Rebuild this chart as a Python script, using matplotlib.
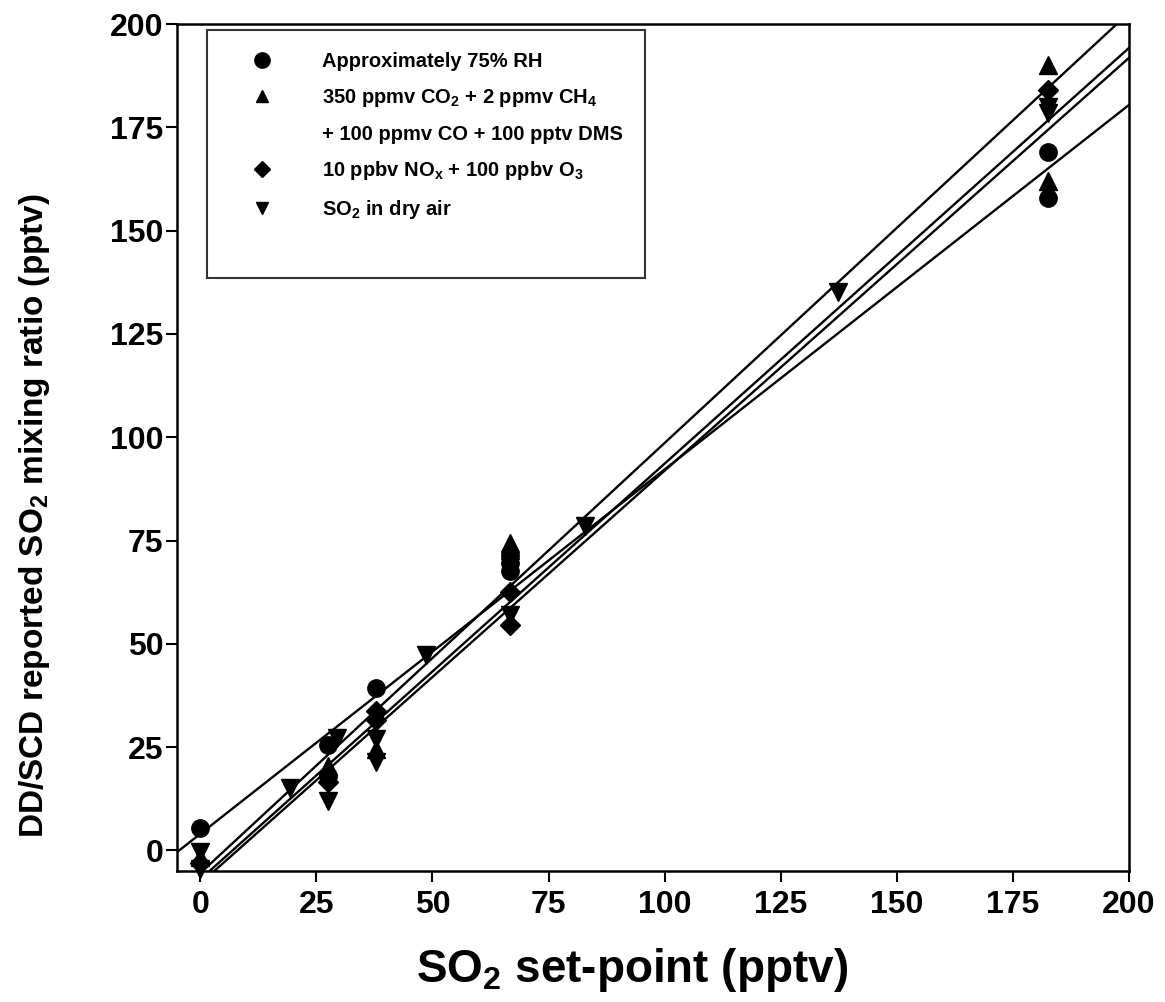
import matplotlib
matplotlib.use("Agg")
import matplotlib.pyplot as plt
from matplotlib.lines import Line2D

plt.rcParams['font.family'] = ['Liberation Sans', 'DejaVu Sans']
plt.rcParams['font.weight'] = 'bold'
plt.rcParams['mathtext.fontset'] = 'custom'
plt.rcParams['mathtext.rm'] = 'Liberation Sans:bold'
plt.rcParams['mathtext.it'] = 'Liberation Sans:bold'
plt.rcParams['mathtext.bf'] = 'Liberation Sans:bold'
plt.rcParams['mathtext.default'] = 'rm'

# ---- data ----
rh_x = [0, 27.4, 27.4, 37.9, 66.6, 66.6, 66.6, 182.6, 182.6]
rh_y = [5.3, 25.5, 18.0, 39.3, 71.5, 69.5, 67.5, 169.0, 158.0]

gas_x = [0, 27.4, 37.9, 66.6, 66.6, 182.6, 182.6]
gas_y = [-1.5, 20.5, 24.5, 74.5, 72.8, 190.0, 162.0]

nox_x = [0, 27.4, 37.9, 37.9, 66.6, 66.6, 182.6]
nox_y = [-3.0, 16.5, 33.8, 31.5, 62.5, 54.5, 184.0]

dry_x = [0, 0, 19.4, 27.4, 29.5, 37.9, 37.9, 48.7, 66.6, 82.8, 137.3, 182.6, 182.6]
dry_y = [-0.5, -4.5, 15.2, 12.0, 27.3, 27.0, 21.5, 47.4, 57.0, 78.4, 135.2, 180.0, 178.5]

# regression lines (slope, intercept)
fit_slopes = [0.882, 1.041, 1.006, 0.999]
fit_intercepts = [4.0, -5.5, -7.0, -8.0]

xticks = [0, 25, 50, 75, 100, 125, 150, 175, 200]
yticks = [0, 25, 50, 75, 100, 125, 150, 175, 200]

labels = ['Approximately 75% RH',
          r'350 ppmv CO$_2$ + 2 ppmv CH$_4$',
          '+ 100 ppmv CO + 100 pptv DMS',
          r'10 ppbv NO$_x$ + 100 ppbv O$_3$',
          r'SO$_2$ in dry air',
          ' ']

fig = plt.figure(figsize=(11.65, 10.02), dpi=100)
ax = fig.add_axes([0.152, 0.1307, 0.817, 0.8453])

xr = [-5, 200]
for m, b in zip(fit_slopes, fit_intercepts):
    ax.plot(xr, [m * xr[0] + b, m * xr[1] + b], color='black', lw=1.7, zorder=2)

ms = 12.5
kw = dict(color='black', linestyle='none', markersize=ms, zorder=3, clip_on=False)
ax.plot(rh_x, rh_y, marker='o', **kw)
ax.plot(gas_x, gas_y, marker='^', **kw)
ax.plot(nox_x, nox_y, marker='D', markersize=ms * 0.8, color='black',
        linestyle='none', zorder=3, clip_on=False)
ax.plot(dry_x, dry_y, marker='v', **kw)

ax.set_xlim(-5, 200)
ax.set_ylim(-5, 200)
ax.set_xticks(xticks)
ax.set_yticks(yticks)
ax.tick_params(axis='both', direction='out', length=8, width=1.5,
               labelsize=23, pad=2)
ax.tick_params(axis='x', pad=6)
for lab in ax.get_xticklabels() + ax.get_yticklabels():
    lab.set_fontweight('bold')
for s in ax.spines.values():
    s.set_linewidth(1.8)

ax.set_xlabel(r'SO$_2$ set-point (pptv)', fontsize=33, fontweight='bold')
ax.set_ylabel(r'DD/SCD reported SO$_2$ mixing ratio (pptv)', fontsize=24,
              fontweight='bold')
ax.xaxis.set_label_coords(0.478, -0.088)
ax.yaxis.set_label_coords(-0.131, 0.42)

handles = [Line2D([], [], marker='o', color='black', linestyle='none', markersize=11),
           Line2D([], [], marker='^', color='black', linestyle='none', markersize=9),
           Line2D([], [], marker='none', linestyle='none'),
           Line2D([], [], marker='D', color='black', linestyle='none', markersize=8.5),
           Line2D([], [], marker='v', color='black', linestyle='none', markersize=9),
           Line2D([], [], marker='none', linestyle='none')]
leg = ax.legend(handles, labels, loc='upper left', bbox_to_anchor=(0.031, 0.993),
                frameon=True, fancybox=False, edgecolor='black',
                handlelength=3.3, handletextpad=1.35, labelspacing=0.78,
                borderpad=1.1, borderaxespad=0.0, prop={'weight': 'bold', 'size': 14.5})
leg.get_frame().set_linewidth(1.5)

fig.savefig('out.png', dpi=100)
